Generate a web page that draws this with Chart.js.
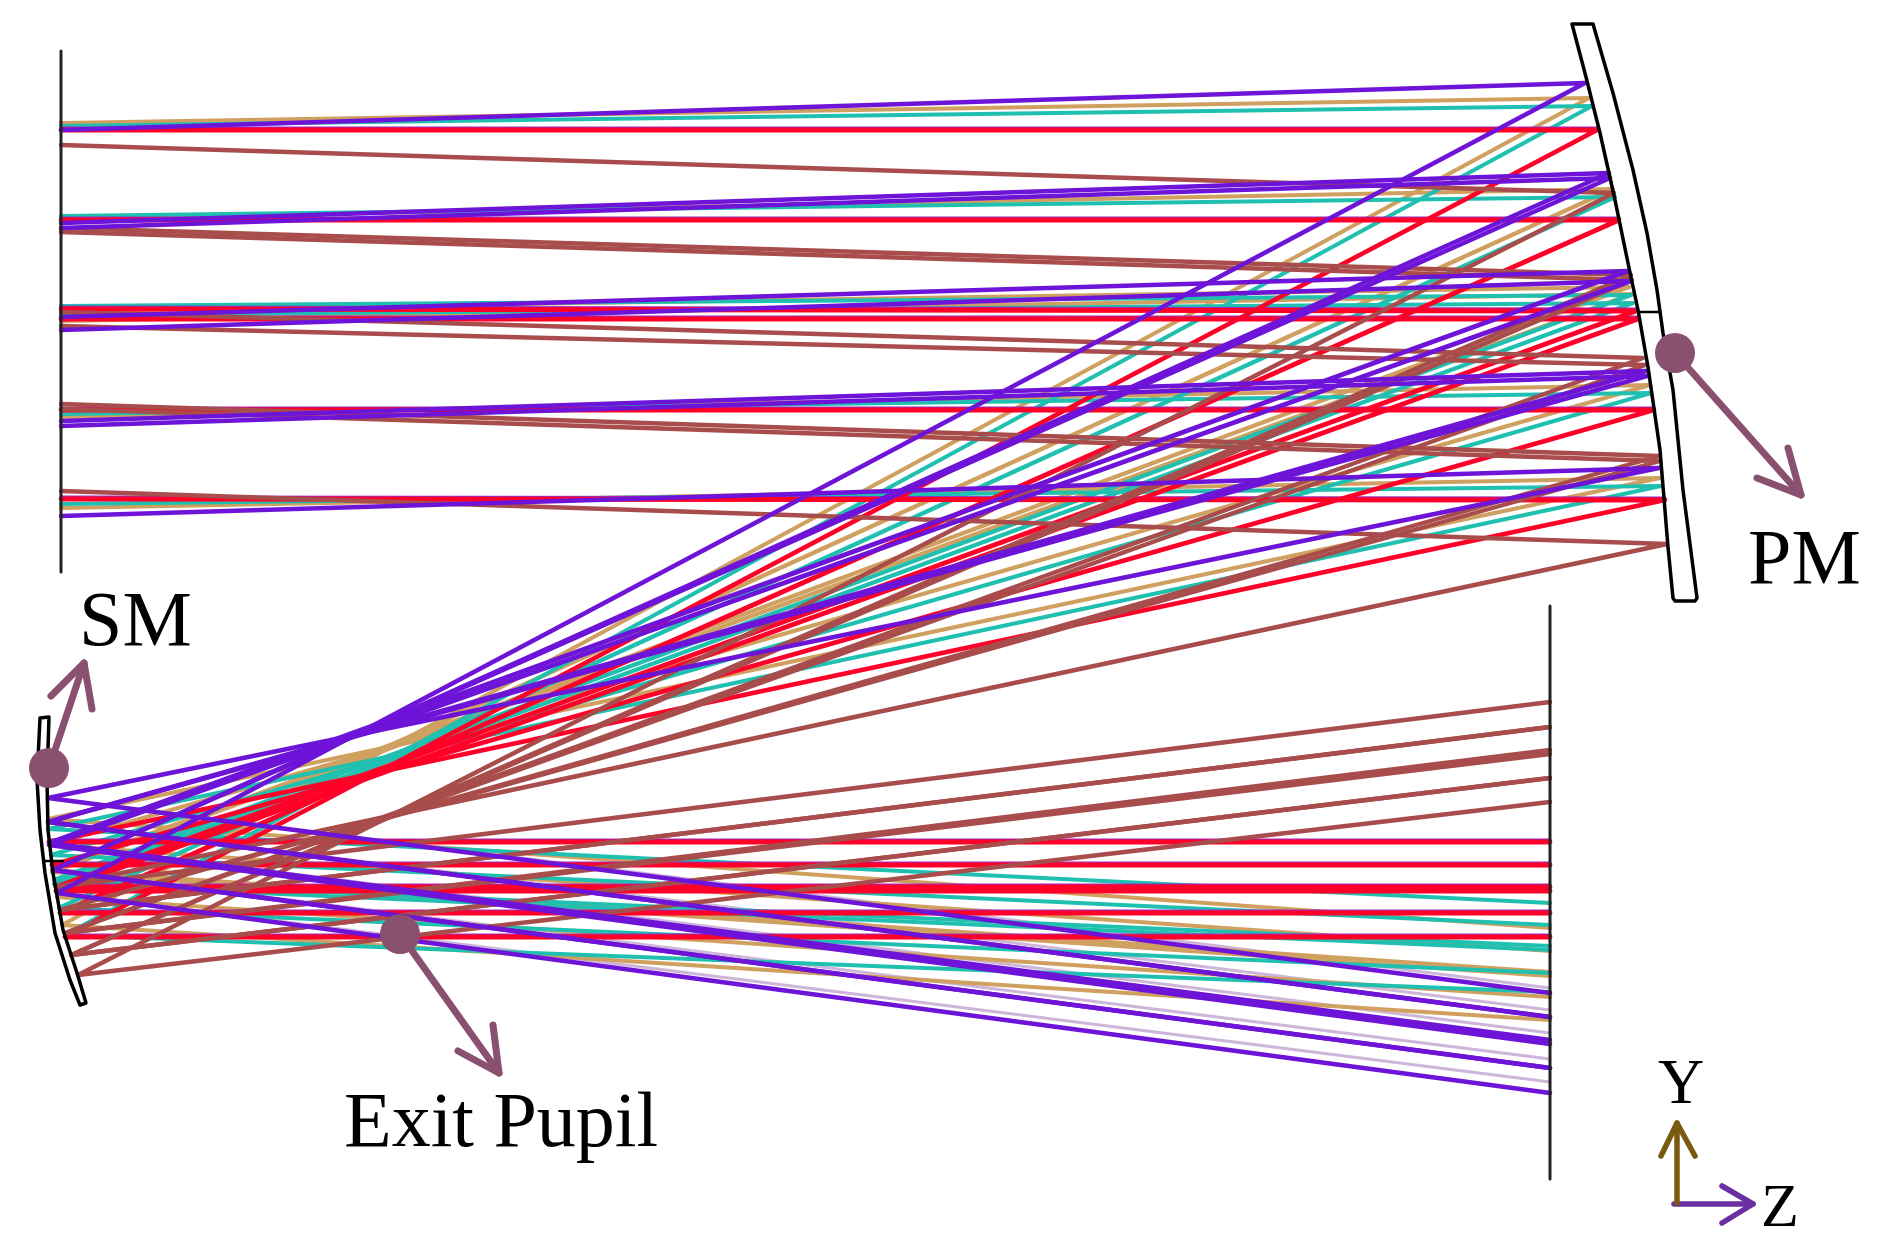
<!DOCTYPE html>
<html>
<head>
<meta charset="utf-8">
<title>Exit Pupil</title>
<script src="https://cdn.jsdelivr.net/npm/chart.js@4/dist/chart.umd.min.js"></script>
<style>
    html, body { margin: 0; padding: 0; background: #fff; }
    canvas { display: block; }
</style>
</head>
<body>
<canvas id="raysChart" width="1886" height="1255"></canvas>
<script>
// ray heights on each surface, one entry per ray: field plane -> PM -> SM -> image plane
const planeInX = 61;
const planeOutX = 1550;

const purpleEntry = [130, 223, 228, 317, 330, 421, 426, 516];
const purplePmX = [1585, 1609, 1610, 1628, 1631, 1646, 1647, 1659];
const purplePmY = [83, 173, 178, 271, 281, 371, 376, 468];
const purpleSmX = [57, 53, 53, 49, 49, 48, 48, 48];
const purpleSmY = [893, 870, 870, 843, 845, 822, 822, 798];
const purpleExit = [1093, 1068, 1068, 1040, 1044, 1017, 1017, 993];

const paleSmX = [57, 53, 49, 48, 48];
const paleSmY = [893, 870, 843, 822, 798];
const paleExit = [1082, 1059, 1033, 1010, 988];

const tanEntry = [123, 219, 311, 321, 417, 508];
const tanPmX = [1589, 1613, 1629, 1632, 1650, 1660];
const tanPmY = [98, 189, 287, 294, 385, 478];
const tanSmX = [62, 57, 52, 52, 49, 48];
const tanSmY = [925, 897, 870, 872, 845, 819];
const tanExit = [1020, 997, 972, 976, 951, 928];

const tealEntry = [126, 216, 306, 315, 414, 504];
const tealPmX = [1592, 1615, 1631, 1633, 1651, 1661];
const tealPmY = [106, 197, 295, 303, 393, 486];
const tealSmX = [65, 59, 54, 54, 51, 48];
const tealSmY = [935, 908, 880, 884, 855, 829];
const tealExit = [992, 973, 946, 950, 925, 903];

const redEntry = [130, 220, 309, 319, 410, 499];
const redPmX = [1597, 1619, 1636, 1638, 1654, 1665];
const redPmY = [130, 220, 311, 319, 410, 500];
const redSmX = [65, 60, 56, 56, 52, 49];
const redSmY = [937, 913, 887, 891, 865, 842];
const redExit = [937, 913, 887, 891, 865, 842];

// thin magenta edge that shows along the horizontal red rays
const edgeEntry = [128, 218, 307, 317, 408, 497];
const edgeExit = [935, 911, 885, 889, 863, 840];

const brownEntry = [145, 228, 232, 312, 326, 404, 409, 491];
const brownPmX = [1614, 1631, 1632, 1643, 1645, 1659, 1660, 1667];
const brownPmY = [193, 275, 280, 358, 365, 456, 461, 544];
const brownSmX = [78, 71, 71, 65, 65, 60, 60, 56];
const brownSmY = [975, 955, 955, 933, 933, 910, 910, 887];
const brownExit = [802, 778, 778, 750, 754, 727, 727, 702];

// mirror outlines
const pmOutlineX = [1572, 1586, 1600, 1615, 1628, 1638, 1648, 1660, 1668, 1673, 1675, 1695, 1697, 1683, 1673, 1663, 1657, 1647, 1633, 1613, 1593, 1572];
const pmOutlineY = [24, 77, 133, 200, 263, 310, 367, 450, 547, 598, 601, 601, 598, 490, 390, 333, 290, 233, 170, 93, 24, 24];
const smOutlineX = [40, 37, 40, 45, 55, 70, 80, 86, 77, 63, 53, 48, 47, 49, 40];
const smOutlineY = [718, 780, 830, 873, 933, 980, 1005, 1003, 973, 930, 873, 830, 780, 717, 718];

// marker circles
const markerNames = ['PM', 'SM', 'Exit Pupil'];
const markerX = [1675, 49, 400];
const markerY = [353, 768, 934];

const labelTexts = ['PM', 'SM', 'Exit Pupil', 'Y', 'Z'];
const labelX = [1748, 79, 344, 1658, 1761];
const labelY = [583, 645, 1146, 1103, 1226];
const labelSizes = [78, 78, 78, 64, 62];

function toPoints(xs, ys) {
    return xs.map((x, i) => ({ x: x, y: ys[i] }));
}

function line(points, color, width) {
    return {
        data: points,
        showLine: true,
        borderColor: color,
        borderWidth: width,
        pointRadius: 0,
        tension: 0,
        fill: false,
        borderJoinStyle: 'round',
        borderCapStyle: 'round'
    };
}

function rays(entry, pmX, pmY, smX, smY, exit, color, width) {
    return entry.map((y, i) => line([
        { x: planeInX, y: y },
        { x: pmX[i], y: pmY[i] },
        { x: smX[i], y: smY[i] },
        { x: planeOutX, y: exit[i] }
    ], color, width));
}

function arrow(x0, y0, tipX, tipY, barbAX, barbAY, barbBX, barbBY, color, width) {
    return [
        line(toPoints([x0, tipX], [y0, tipY]), color, width),
        line(toPoints([barbAX, tipX, barbBX], [barbAY, tipY, barbBY]), color, width)
    ];
}

const markerColor = '#8a5070';

// first dataset ends up on top
const datasets = [];

markerNames.forEach((name, i) => {
    datasets.push({
        label: name,
        data: [{ x: markerX[i], y: markerY[i] }],
        showLine: false,
        pointRadius: 20,
        pointBackgroundColor: markerColor,
        pointBorderWidth: 0
    });
});

datasets.push(...arrow(1675, 353, 1801, 495, 1788, 448, 1757, 478, markerColor, 7));
datasets.push(...arrow(49, 768, 84, 663, 51, 696, 92, 709, markerColor, 7));
datasets.push(...arrow(400, 934, 499, 1073, 493, 1025, 458, 1051, markerColor, 7));
datasets.push(...arrow(1677, 1203, 1677, 1123, 1661, 1156, 1695, 1156, '#7a5a10', 5.5));
datasets.push(...arrow(1674, 1204, 1753, 1204, 1722, 1186, 1722, 1223, '#6a2fa0', 5.5));

datasets.push(line(toPoints([planeInX, planeInX], [51, 572]), '#222222', 3));
datasets.push(line(toPoints([planeOutX, planeOutX], [606, 1179]), '#222222', 3));
datasets.push(line(toPoints(pmOutlineX, pmOutlineY), '#000000', 3.5));
datasets.push(line(toPoints([1638, 1660], [312, 312]), '#000000', 2.5));
datasets.push(line(toPoints(smOutlineX, smOutlineY), '#000000', 3.5));
datasets.push(line(toPoints([45, 63], [861, 861]), '#000000', 2.5));

datasets.push(...rays(purpleEntry, purplePmX, purplePmY, purpleSmX, purpleSmY, purpleExit, '#6e14d8', 4.6));
datasets.push(...rays(brownEntry, brownPmX, brownPmY, brownSmX, brownSmY, brownExit, '#a84c4c', 4.4));
datasets.push(...rays(redEntry, redPmX, redPmY, redSmX, redSmY, redExit, '#ff0028', 4.8));

edgeEntry.forEach((y, i) => {
    datasets.push(line(toPoints([planeInX, redPmX[i]], [y, redPmY[i] - 2]), '#9a2cc0', 3));
    datasets.push(line(toPoints([redSmX[i], planeOutX], [edgeExit[i], edgeExit[i]]), '#9a2cc0', 3));
});

datasets.push(...rays(tealEntry, tealPmX, tealPmY, tealSmX, tealSmY, tealExit, '#20c0b0', 4.2));
datasets.push(...rays(tanEntry, tanPmX, tanPmY, tanSmX, tanSmY, tanExit, '#d0a060', 4.2));

paleExit.forEach((y, i) => {
    datasets.push(line(toPoints([paleSmX[i], planeOutX], [paleSmY[i], y]), '#cdb6da', 3));
});

const labelsPlugin = {
    id: 'diagramLabels',
    afterDatasetsDraw(chart) {
        const ctx = chart.ctx;
        ctx.save();
        ctx.fillStyle = '#000000';
        ctx.textAlign = 'left';
        ctx.textBaseline = 'alphabetic';
        labelTexts.forEach((text, i) => {
            ctx.font = labelSizes[i] + 'px "Liberation Serif"';
            ctx.fillText(text, chart.scales.x.getPixelForValue(labelX[i]), chart.scales.y.getPixelForValue(labelY[i]));
        });
        ctx.restore();
    }
};

new Chart(document.getElementById('raysChart').getContext('2d'), {
    type: 'scatter',
    data: { datasets: datasets },
    options: {
        responsive: false,
        animation: false,
        layout: { padding: 0, autoPadding: false },
        scales: {
            x: { display: false, min: 0, max: 1886 },
            y: { display: false, min: 0, max: 1255, reverse: true }
        },
        plugins: {
            legend: { display: false },
            tooltip: { enabled: false }
        }
    },
    plugins: [labelsPlugin]
});
</script>
</body>
</html>
